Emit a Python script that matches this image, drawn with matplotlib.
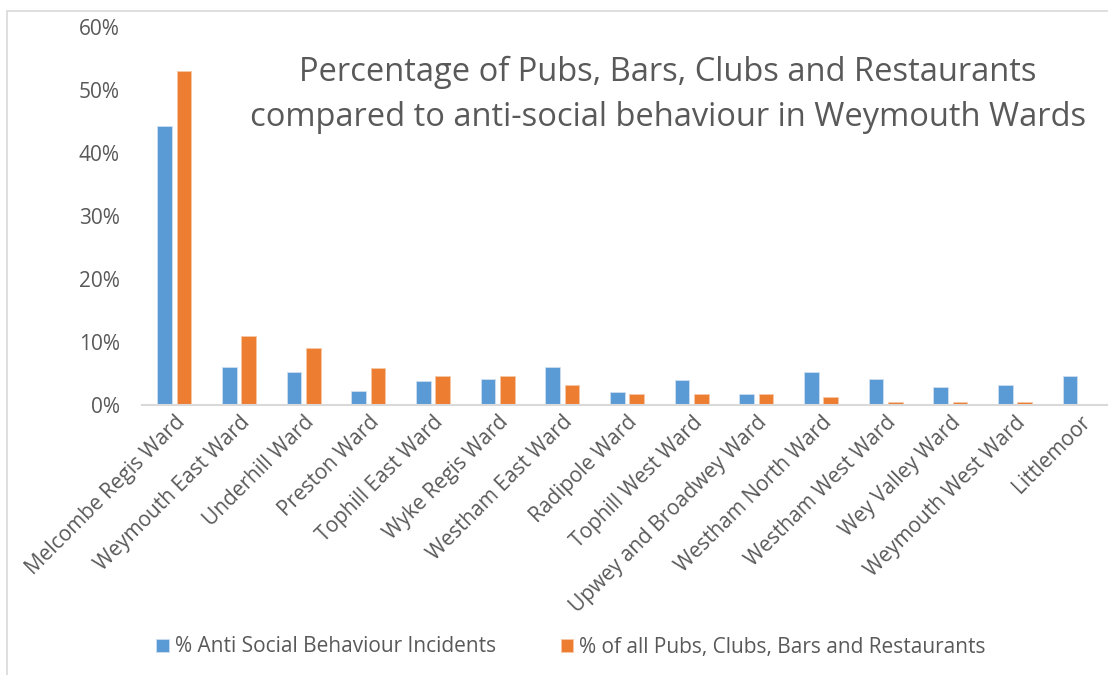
import matplotlib.pyplot as plt
import numpy as np
from matplotlib.patches import Rectangle
from matplotlib.ticker import FuncFormatter

plt.rcParams['font.family'] = ['Open Sans', 'DejaVu Sans']

wards = ['Melcombe Regis Ward', 'Weymouth East Ward', 'Underhill Ward', 'Preston Ward',
         'Tophill East Ward', 'Wyke Regis Ward', 'Westham East Ward', 'Radipole Ward',
         'Tophill West Ward', 'Upwey and Broadwey Ward', 'Westham North Ward',
         'Westham West Ward', 'Wey Valley Ward', 'Weymouth West Ward', 'Littlemoor']
asb = [44.3, 6.0, 5.2, 2.2, 3.8, 4.1, 6.1, 2.1, 3.9, 1.7, 5.2, 4.1, 2.9, 3.1, 4.6]
pubs = [53.0, 11.0, 9.05, 5.8, 4.55, 4.55, 3.2, 1.8, 1.8, 1.8, 1.2, 0.5, 0.5, 0.5, 0.0]

asb_label = '% Anti Social Behaviour Incidents'
pubs_label = '% of all Pubs, Clubs, Bars and Restaurants'
title = 'Percentage of Pubs, Bars, Clubs and Restaurants\ncompared to anti-social behaviour in Weymouth Wards'

blue = '#5B9BD5'
orange = '#ED7D31'
grey = '#595959'

fig = plt.figure(figsize=(11.08, 6.75), dpi=100)
fig.patches.append(Rectangle((7 / 1108, -0.2), 1.5, 1.2 - 11 / 675, transform=fig.transFigure,
                             fill=False, edgecolor='#d9d9d9', lw=1.2))

ax = fig.add_axes([142 / 1108, 0.4, 970 / 1108, 0.56])
x = np.arange(len(wards))
w = 0.225
ax.bar(x - 0.15, asb, w, color=blue, edgecolor='#cfe0f1', lw=0.6, label=asb_label)
ax.bar(x + 0.15, pubs, w, color=orange, edgecolor='#f7c7a6', lw=0.6, label=pubs_label)

ax.set_xlim(-0.5, len(wards) - 0.5)
ax.set_ylim(0, 60)
ax.set_yticks(np.arange(0, 61, 10))
ax.yaxis.set_major_formatter(FuncFormatter(lambda v, p: f'{v:.0f}%'))
ax.set_xticks(x)
ax.set_xticklabels(wards, rotation=45, ha='right', va='top', rotation_mode='anchor')
ax.tick_params(axis='both', length=0, labelsize=15, colors=grey)
ax.tick_params(axis='y', pad=16)
ax.tick_params(axis='x', pad=5)
for s in ['top', 'right', 'left']:
    ax.spines[s].set_visible(False)
ax.spines['bottom'].set_color('#d9d9d9')
ax.spines['bottom'].set_linewidth(1.5)

fig.text(668 / 1108, 1 - 95 / 675, title, ha='center', va='center', fontsize=23.5,
         color=grey, linespacing=1.45)

fig.legend(loc='center', bbox_to_anchor=(571 / 1108, 1 - 647 / 675), ncol=2, frameon=False,
           fontsize=15, labelcolor=grey, handlelength=0.6, handleheight=0.6,
           handletextpad=0.3, columnspacing=3.1)

fig.savefig('out.png', dpi=100)
